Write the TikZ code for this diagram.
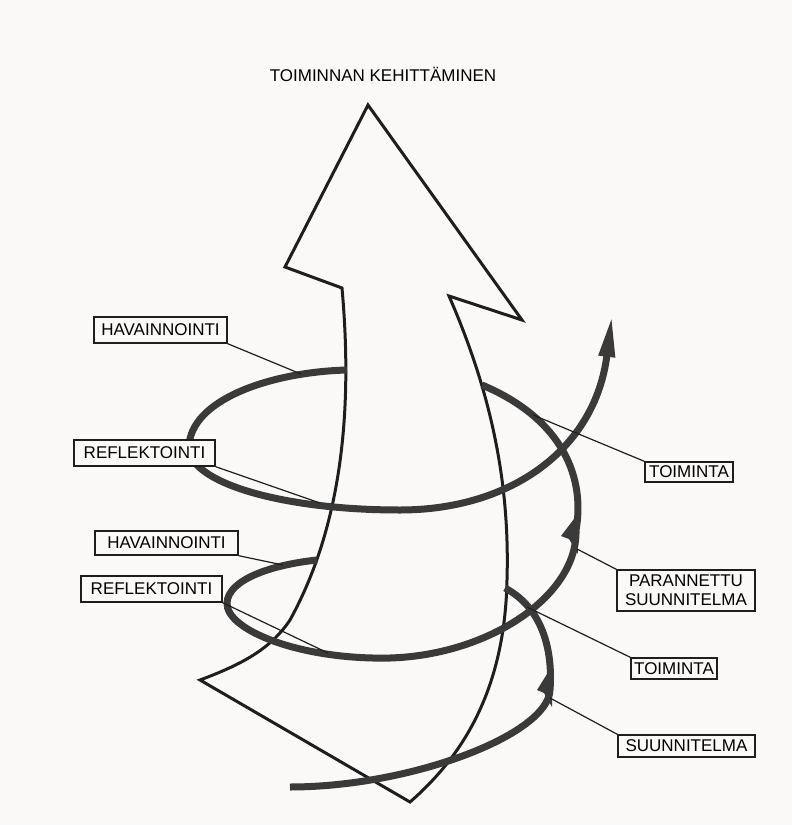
\documentclass[tikz,border=0pt]{standalone}
\usepackage{fontspec}
\setmainfont{Liberation Sans}
\usetikzlibrary{arrows.meta}
\definecolor{paper}{RGB}{250,249,247}
\definecolor{ink}{RGB}{30,30,30}
\definecolor{loopgray}{RGB}{58,58,58}

\begin{document}
\begin{tikzpicture}[x=1pt, y=-1pt, font=\fontsize{17}{19}\selectfont,
  bigarrow/.style={draw=ink, line width=3pt, line join=miter, fill=paper},
  spiral/.style={draw=loopgray, line width=7pt},
  barb/.style={fill=loopgray},
  lbl/.style={draw=ink, line width=1.4pt, fill=paper, inner sep=0pt, align=center},
  leader/.style={draw=ink, line width=1.2pt}]
  \fill[paper] (0,0) rectangle (792,825);
  \useasboundingbox (0,0) rectangle (792,825);
  \node[anchor=base] (title) at (383,81) {TOIMINNAN KEHITTÄMINEN};
  \path[bigarrow] (368,105) -- (522,320) -- (449,296)
    .. controls (490,390) and (510,480) .. (507,580)
    .. controls (505,680) and (470,750) .. (410,802) -- (200,680)
    .. controls (240,665) and (270,650) .. (290,620)
    .. controls (345,520) and (352,400) .. (342,288) -- (285,267) -- cycle;
  \draw[spiral] (290,787) .. controls (410,787) and (548,735) .. (550,690)
    .. controls (552,665) and (550,612) .. (505,588);
  \draw[spiral] (317,560) .. controls (270,565) and (228,580) .. (227,603)
    .. controls (226,630) and (300,660) .. (390,658)
    .. controls (490,655) and (578,595) .. (576,530)
    .. controls (585,480) and (565,420) .. (482,385);
  \draw[spiral, -{Triangle[length=42pt, width=15pt]}] (347,370)
    .. controls (270,372) and (190,400) .. (189,447)
    .. controls (188,482) and (280,510) .. (400,510)
    .. controls (510,510) and (595,450) .. (612,315);
  \fill[barb] (552,666) -- (537,690) -- (544,693) -- (552,707) -- cycle;
  \fill[barb] (577,515) -- (561,536) -- (569,539) -- (578,554) -- cycle;
  \coordinate (hv1) at (301,374);
  \coordinate (rf1) at (320,503);
  \coordinate (to1) at (533,415);
  \coordinate (hv2) at (283,565);
  \coordinate (rf2) at (328,653);
  \coordinate (pa) at (577,549);
  \coordinate (to2) at (527,607);
  \coordinate (su) at (550,698);
  \foreach \n/\x/\y/\w/\h/\t in {hav1/160.5/330/133/26/HAVAINNOINTI,
      ref1/144.5/453/141/26/REFLEKTOINTI, hav2/166.5/543/143/24/HAVAINNOINTI,
      ref2/151.5/589/141/26/REFLEKTOINTI, toi1/689/472/88/20/TOIMINTA,
      toi2/674/668.5/86/21/TOIMINTA, suu/686.5/746/137/22/SUUNNITELMA}
    \node[lbl, minimum width=\w, minimum height=\h] (\n) at (\x,\y) {\t};
  \node[lbl, minimum width=138, minimum height=41] (par) at (686,590.5) {PARANNETTU\\SUUNNITELMA};
  \foreach \b/\p in {hav1.south east/hv1, ref1.south east/rf1, toi1.north west/to1,
      hav2.south east/hv2, ref2.south east/rf2, par.north west/pa,
      toi2.north west/to2, suu.north west/su}
    \draw[leader] (\b) -- (\p);
\end{tikzpicture}
\end{document}
